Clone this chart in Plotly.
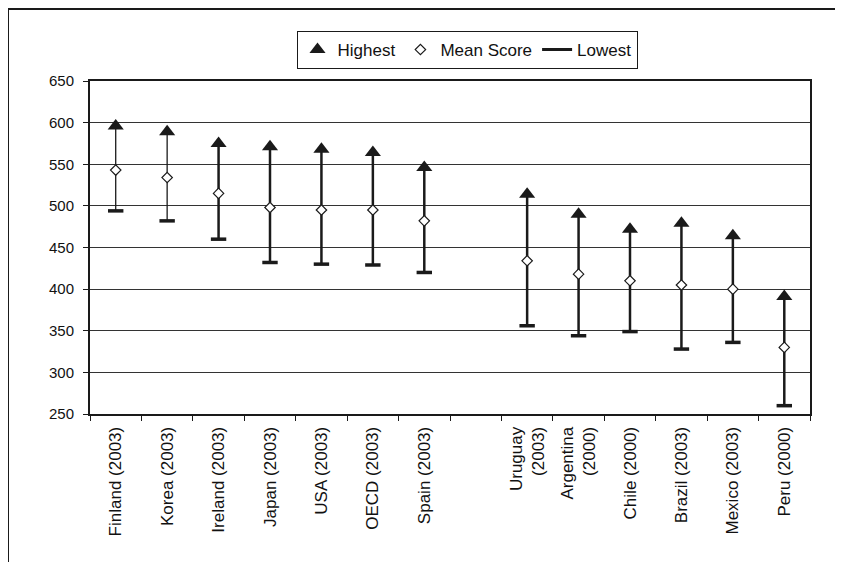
import plotly.graph_objects as go

categories = ["Finland (2003)", "Korea (2003)", "Ireland (2003)", "Japan (2003)",
              "USA (2003)", "OECD (2003)", "Spain (2003)", " ",
              "Uruguay<br>(2003)", "Argentina<br>(2000)", "Chile (2000)",
              "Brazil (2003)", "Mexico (2003)", "Peru (2000)"]
highest = [596, 589, 575, 571, 568, 564, 546, None, 514, 490, 472, 479, 464, 391]
mean_score = [543, 534, 515, 498, 495, 495, 482, None, 434, 418, 410, 405, 400, 330]
lowest = [494, 482, 460, 432, 430, 429, 420, None, 356, 344, 349, 328, 336, 260]

# page has an 8px body margin; figure is sized to fit the 843x562 window
W, H = 835, 554
L, R, T, B = 82, 33, 73, 148
pw, ph = W - L - R, H - T - B

FONT = "Liberation Sans, Arial, sans-serif"
INK = "#1a1a1a"

fig = go.Figure()

# vertical high-low lines (first two drawn thinner, as in the reference)
thin_x, thin_y, thick_x, thick_y = [], [], [], []
for i, (c, h, lo) in enumerate(zip(categories, highest, lowest)):
    if h is None:
        continue
    if i < 2:
        thin_x += [c, c, None]
        thin_y += [h, lo, None]
    else:
        thick_x += [c, c, None]
        thick_y += [h, lo, None]
fig.add_trace(go.Scatter(x=thin_x, y=thin_y, mode="lines", line=dict(color=INK, width=1.3),
                         showlegend=False, hoverinfo="skip"))
fig.add_trace(go.Scatter(x=thick_x, y=thick_y, mode="lines", line=dict(color=INK, width=2.5),
                         showlegend=False, hoverinfo="skip"))

fig.add_trace(go.Scatter(x=categories, y=lowest, mode="markers", name="Lowest",
                         showlegend=False,
                         marker=dict(symbol="line-ew", size=11,
                                     line=dict(color=INK, width=3.5))))
fig.add_trace(go.Scatter(x=categories, y=highest, mode="markers", name="Highest",
                         marker=dict(symbol="triangle-up", size=14, color=INK,
                                     line=dict(width=0))))
fig.add_trace(go.Scatter(x=categories, y=mean_score, mode="markers", name="Mean Score",
                         marker=dict(symbol="diamond", size=8, color="white",
                                     line=dict(color=INK, width=1.2))))
# legend entry for "Lowest" drawn as a line, as in the reference
fig.add_trace(go.Scatter(x=[None], y=[None], mode="lines", name="Lowest",
                         line=dict(color=INK, width=3), hoverinfo="skip"))


def px2paper_x(px):
    return (px - L) / pw


def px2paper_y(py):
    return (H - B - py) / ph


fig.add_shape(type="rect", xref="paper", yref="paper",
              x0=px2paper_x(0), x1=px2paper_x(870), y0=px2paper_y(600), y1=px2paper_y(1),
              line=dict(color=INK, width=2), fillcolor="rgba(0,0,0,0)", layer="below")

fig.update_layout(
    width=W, height=H,
    margin=dict(l=L, r=R, t=T, b=B, autoexpand=False),
    paper_bgcolor="white", plot_bgcolor="white",
    font=dict(family=FONT, size=17, color="#111"),
    legend=dict(orientation="h", x=px2paper_x(459), xanchor="center",
                y=px2paper_y(23), yanchor="top",
                bordercolor=INK, borderwidth=1, bgcolor="white",
                font=dict(size=17), itemwidth=30, tracegroupgap=0),
    xaxis=dict(type="category", categoryorder="array", categoryarray=categories,
               showline=True, linecolor=INK, linewidth=2, mirror=True,
               ticks="outside", ticklen=5, tickcolor=INK, tickson="boundaries",
               tickangle=-90, showgrid=False, zeroline=False, ticklabelstandoff=4,
               range=[-0.5, len(categories) - 0.5], tickfont=dict(size=17)),
    yaxis=dict(range=[250, 650], dtick=50, tick0=250,
               showline=True, linecolor=INK, linewidth=2, mirror=True,
               ticks="outside", ticklen=5, tickcolor=INK, ticklabelstandoff=6,
               showgrid=True, gridcolor="#333", gridwidth=1, zeroline=False,
               tickfont=dict(size=15)),
)

fig.write_html("out.html")
